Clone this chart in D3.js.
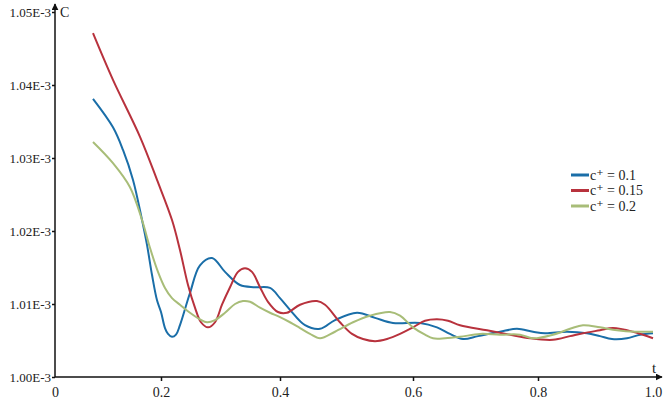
<!DOCTYPE html>
<html>
<head>
<meta charset="utf-8">
<script src="https://cdn.jsdelivr.net/npm/d3@7"></script>
<style>
  body { margin: 0; background: #fff; }
  svg text { font-family: "Liberation Serif", "DejaVu Serif", "Times New Roman", serif; fill: #222; }
</style>
</head>
<body>
<div id="chart"></div>
<script>
// values in units of 1E-3
const seriesNames = ["c\u207A = 0.1", "c\u207A = 0.15", "c\u207A = 0.2"];
const colors = ["#1a6ea8", "#b8323d", "#a8bd78"];

const blueT = [0.0717, 0.1094, 0.1283, 0.1472, 0.1642, 0.1736, 0.1830, 0.1925, 0.2, 0.2067, 0.2118, 0.2185, 0.2252, 0.2319, 0.2487, 0.2655, 0.2857, 0.3076, 0.3328, 0.3580, 0.3832, 0.4, 0.4150, 0.4376, 0.4602, 0.4827, 0.5158, 0.5429, 0.5699, 0.6112, 0.6384, 0.6592, 0.68, 0.704, 0.7392, 0.7664, 0.792, 0.8120, 0.8496, 0.8838, 0.9060, 0.9265, 0.9521, 0.9744, 0.9966];
const blueC = [1.0381, 1.0342, 1.0311, 1.0270, 1.0215, 1.0181, 1.0140, 1.0105, 1.0089, 1.0067, 1.0059, 1.0055, 1.0058, 1.0071, 1.0115, 1.0153, 1.0163, 1.0144, 1.0126, 1.0123, 1.0122, 1.0108, 1.0092, 1.0071, 1.0066, 1.0078, 1.0088, 1.0081, 1.0074, 1.0074, 1.0068, 1.0059, 1.0052, 1.0056, 1.0062, 1.0066, 1.0062, 1.0060, 1.0062, 1.0060, 1.0056, 1.0052, 1.0053, 1.0058, 1.0060];

const redT = [0.0717, 0.1094, 0.1604, 0.1925, 0.2185, 0.2319, 0.2454, 0.2571, 0.2672, 0.2790, 0.2908, 0.3025, 0.3160, 0.3294, 0.3412, 0.3529, 0.3664, 0.3798, 0.3966, 0.4105, 0.4301, 0.4556, 0.4677, 0.4902, 0.5083, 0.5248, 0.5429, 0.5609, 0.5805, 0.6, 0.6192, 0.6384, 0.656, 0.6752, 0.7184, 0.7552, 0.7872, 0.8256, 0.8547, 0.8769, 0.9060, 0.9282, 0.9624, 0.9966];
const redC = [1.0471, 1.0407, 1.0329, 1.0270, 1.0215, 1.0174, 1.0126, 1.0095, 1.0075, 1.0068, 1.0075, 1.0099, 1.0123, 1.0144, 1.0149, 1.0144, 1.0123, 1.0103, 1.0089, 1.0088, 1.0099, 1.0104, 1.0099, 1.0075, 1.0059, 1.0052, 1.0049, 1.0052, 1.0059, 1.0068, 1.0077, 1.0079, 1.0077, 1.0071, 1.0064, 1.0058, 1.0053, 1.0051, 1.0056, 1.0060, 1.0064, 1.0067, 1.0062, 1.0053];

const greenT = [0.0717, 0.1094, 0.1415, 0.1642, 0.1792, 0.1943, 0.2067, 0.2185, 0.2319, 0.2487, 0.2655, 0.2773, 0.2908, 0.3076, 0.3244, 0.3378, 0.3496, 0.3664, 0.3832, 0.4, 0.4150, 0.4301, 0.4451, 0.4602, 0.4827, 0.5098, 0.5353, 0.5654, 0.5805, 0.6, 0.6192, 0.632, 0.6512, 0.6752, 0.7072, 0.7392, 0.7712, 0.792, 0.8256, 0.8547, 0.8769, 0.9060, 0.9350, 0.9658, 0.9966];
const greenC = [1.0322, 1.0293, 1.0260, 1.0215, 1.0177, 1.0144, 1.0122, 1.0108, 1.0099, 1.0088, 1.0079, 1.0075, 1.0078, 1.0088, 1.0100, 1.0104, 1.0103, 1.0095, 1.0088, 1.0082, 1.0075, 1.0067, 1.0059, 1.0053, 1.0062, 1.0075, 1.0084, 1.0089, 1.0084, 1.0068, 1.0058, 1.0053, 1.0053, 1.0055, 1.0059, 1.0058, 1.0058, 1.0053, 1.0058, 1.0066, 1.0071, 1.0068, 1.0064, 1.0062, 1.0062];

const xTicks = [0, 0.2, 0.4, 0.6, 0.8, 1.0];
const yTicks = [1.00, 1.01, 1.02, 1.03, 1.04, 1.05];

const W = 663, H = 405;
const margin = {top: 12, right: 8, bottom: 28, left: 55};

const svg = d3.select("#chart").append("svg")
    .attr("width", W)
    .attr("height", H);

// the t axis of the original is not evenly spaced, so map each tick where it sits
const x = d3.scaleLinear().domain(xTicks).range([55, 161, 280, 413, 538, 655]);
const y = d3.scaleLinear().domain([1.00, 1.05]).range([H - margin.bottom, margin.top]);

// arrow markers
const defs = svg.append("defs");
defs.append("marker")
    .attr("id", "arrow")
    .attr("viewBox", "0 0 10 10")
    .attr("refX", 9).attr("refY", 5)
    .attr("markerWidth", 7).attr("markerHeight", 7)
    .attr("markerUnits", "userSpaceOnUse")
    .attr("orient", "auto")
    .append("path")
    .attr("d", "M0,0 L10,5 L0,10 z")
    .attr("fill", "#111");

const fontFam = '"Liberation Serif", "DejaVu Serif", serif';

// X axis
const xAxis = svg.append("g")
    .attr("transform", "translate(0," + y(1.00) + ")")
    .call(d3.axisBottom(x).tickValues(xTicks).tickSize(4).tickSizeOuter(0)
        .tickFormat(d => d === 0 ? "0" : d3.format(".1f")(d)));
xAxis.attr("font-family", fontFam);
xAxis.select(".domain").remove();
xAxis.selectAll(".tick line").attr("stroke", "#111").attr("stroke-width", 1.5);
xAxis.selectAll(".tick text").style("font-size", "14px").attr("dy", "0.9em").attr("fill", "#222");
xAxis.selectAll(".tick").filter(d => d === 0).select("line").remove();
xAxis.selectAll(".tick").filter(d => d === 1).select("line").remove();
xAxis.selectAll(".tick").filter(d => d === 1).select("text").attr("dx", -2);

svg.append("line")
    .attr("x1", x(0)).attr("x2", W - 1)
    .attr("y1", y(1.00)).attr("y2", y(1.00))
    .attr("stroke", "#111").attr("stroke-width", 1.5)
    .attr("marker-end", "url(#arrow)");

// Y axis
const yAxis = svg.append("g")
    .attr("transform", "translate(" + x(0) + ",0)")
    .call(d3.axisLeft(y).tickValues(yTicks).tickSize(3).tickSizeOuter(0)
        .tickFormat(d => d3.format(".2f")(d) + "E-3"));
yAxis.attr("font-family", fontFam);
yAxis.select(".domain").remove();
yAxis.selectAll(".tick line").attr("stroke", "#111").attr("stroke-width", 1.5);
yAxis.selectAll(".tick text").style("font-size", "13px").attr("x", -4).attr("fill", "#222");

svg.append("line")
    .attr("x1", x(0)).attr("x2", x(0))
    .attr("y1", y(1.00)).attr("y2", 4)
    .attr("stroke", "#111").attr("stroke-width", 1.5)
    .attr("marker-end", "url(#arrow)");

svg.append("text").attr("x", x(0) + 5).attr("y", 17)
    .style("font-size", "14px").text("C");
svg.append("text").attr("x", 652).attr("y", 373)
    .style("font-size", "15px").text("t");

// Lines
const line = d3.line()
    .x(d => x(d[0]))
    .y(d => y(d[1]))
    .curve(d3.curveCatmullRom.alpha(0.5));

const series = [
    d3.zip(blueT, blueC),
    d3.zip(redT, redC),
    d3.zip(greenT, greenC)
];

svg.append("g").selectAll("path")
    .data(series)
    .enter()
    .append("path")
    .attr("d", line)
    .attr("fill", "none")
    .attr("stroke", (d, i) => colors[i])
    .attr("stroke-width", 2);

// Legend
const legend = svg.append("g").attr("transform", "translate(571,175)");
seriesNames.forEach(function(name, i) {
    const g = legend.append("g").attr("transform", "translate(0," + i * 15.5 + ")");
    g.append("line").attr("x1", 0).attr("x2", 18).attr("y1", 0).attr("y2", 0)
        .attr("stroke", colors[i]).attr("stroke-width", 3);
    g.append("text").attr("x", 19).attr("y", 4.5)
        .style("font-size", "14px").text(name);
});
</script>
</body>
</html>
